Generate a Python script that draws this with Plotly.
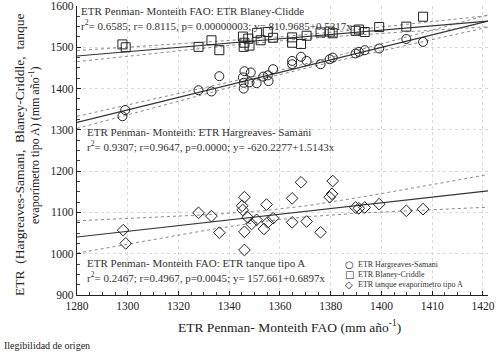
import numpy as np
import plotly.graph_objects as go

# ---------------- data ----------------
hs_x = [1297.9, 1299.0, 1327.9, 1333.0, 1336.1, 1345.4, 1346.0, 1345.7, 1345.7, 1348.5, 1348.0,
        1350.8, 1353.4, 1355.2, 1355.5, 1357.3, 1364.8, 1364.8, 1368.3, 1370.5, 1376.0, 1379.6,
        1380.8, 1389.8, 1391.1, 1393.4, 1399.1, 1409.8, 1416.4]
hs_y = [1333, 1348, 1396, 1393, 1430, 1427, 1442, 1414, 1400, 1439, 1415,
        1413, 1429, 1432, 1418, 1447, 1467, 1459, 1477, 1467, 1459, 1471,
        1475, 1485, 1489, 1493, 1497, 1520, 1513]

bc_x = [1297.9, 1299.2, 1327.9, 1333.0, 1336.1, 1345.4, 1346.0, 1345.7, 1348.0, 1347.5, 1351.0,
        1352.4, 1355.2, 1357.3, 1364.8, 1364.8, 1368.3, 1370.5, 1376.0, 1379.6, 1380.8,
        1389.8, 1391.1, 1393.4, 1399.1, 1409.8, 1416.4]
bc_y = [1507, 1500, 1501, 1517, 1493, 1526, 1511, 1501, 1504, 1521, 1535,
        1517, 1537, 1523, 1524, 1511, 1508, 1528, 1536, 1538, 1534,
        1540, 1543, 1537, 1549, 1550, 1574]

ta_x = [1298.2, 1299.2, 1327.9, 1333.0, 1336.1, 1346.0, 1345.1, 1345.3, 1346.0, 1346.0, 1347.3,
        1348.8, 1350.8, 1354.7, 1353.7, 1355.2, 1357.3, 1364.8, 1364.8, 1368.3, 1370.5, 1376.0,
        1379.6, 1380.5, 1380.8, 1389.8, 1391.1, 1393.4, 1399.1, 1409.8, 1416.4]
ta_y = [1057, 1025, 1099, 1091, 1051, 1137, 1116, 1106, 1053, 1009, 1088,
        1072, 1082, 1119, 1060, 1076, 1086, 1134, 1076, 1173, 1078, 1052,
        1137, 1145, 1176, 1112, 1110, 1112, 1120, 1104, 1108]

# regression coefficients printed on the chart (intercept, slope)
hs_fit = [-620.2277, 1.5143]
bc_fit = [810.9685, 0.5217]
ta_fit = [157.661, 0.6897]

series_names = ["ETR Hargreaves-Samani", "ETR Blaney-Criddle", "ETR tanque evaporímetro tipo A"]
legend_glyphs = ["○", "□", "◇"]

x_tickvals = [1280, 1300, 1320, 1340, 1360, 1380, 1400, 1420, 1440]
x_ticktext = ["1280", "1300", "1320", "1340", "1360", "1380", "1400", "1410", "1420"]
y_tickvals = [900, 1000, 1100, 1200, 1300, 1400, 1500, 1600]

X_MIN, X_MAX = 1280, 1442
FONT = "Liberation Serif, Times New Roman, serif"
L, R, T, B, W, H = 77, 12, 6, 58, 500, 353
PW, PH = W - L - R, H - T - B


def px_x(p):
    return (p - L) / PW


def px_y(p):
    return (H - B - p) / PH


fig = go.Figure()


def add_fit(xs, ys, coef):
    xs = np.asarray(xs, float)
    ys = np.asarray(ys, float)
    a, b = coef
    n = len(xs)
    resid = ys - (a + b * xs)
    s = np.sqrt(np.sum(resid ** 2) / (n - 2))
    xbar = xs.mean()
    sxx = np.sum((xs - xbar) ** 2)
    t = 2.05
    grid = np.linspace(X_MIN, X_MAX, 100)
    yhat = a + b * grid
    half = t * s * np.sqrt(1.0 / n + (grid - xbar) ** 2 / sxx)
    for yy in (yhat + half, yhat - half):
        fig.add_trace(go.Scatter(x=grid, y=yy, mode="lines", showlegend=False, hoverinfo="skip",
                                 line=dict(color="#8a8a8a", width=1, dash="dot")))
    fig.add_trace(go.Scatter(x=grid, y=yhat, mode="lines", showlegend=False, hoverinfo="skip",
                             line=dict(color="#333333", width=1.1)))


add_fit(hs_x, hs_y, hs_fit)
add_fit(bc_x, bc_y, bc_fit)
add_fit(ta_x, ta_y, ta_fit)

for xs, ys, sym, nm in [(hs_x, hs_y, "circle-open", series_names[0]),
                        (bc_x, bc_y, "square-open", series_names[1]),
                        (ta_x, ta_y, "diamond-open", series_names[2])]:
    fig.add_trace(go.Scatter(x=xs, y=ys, mode="markers", name=nm, showlegend=False,
                             marker=dict(symbol=sym, size=9, color="#222222", line=dict(width=1))))

ann_font = dict(family=FONT, size=11, color="#333333")
texts = [
    (79, 3, "ETR Penman- Monteith FAO: ETR Blaney-Clidde"),
    (79, 16, "r<sup>2</sup>= 0.6585; r= 0.8115, p= 0.00000003; y= 810.9685+0.5217x"),
    (85, 124, "ETR Penman- Monteith: ETR Hargreaves- Samani"),
    (85, 137, "r<sup>2</sup>= 0.9307; r=0.9647, p=0.0000; y= -620.2277+1.5143x"),
    (85, 255, "ETR Penman- Monteith FAO: ETR tanque tipo A"),
    (85, 268, "r<sup>2</sup>= 0.2467; r=0.4967, p=0.0045; y= 157.661+0.6897x"),
]
for xp, yp, t in texts:
    fig.add_annotation(x=px_x(xp), y=px_y(yp), xref="paper", yref="paper", text=t, showarrow=False,
                       xanchor="left", yanchor="top", font=ann_font)

# manual compact legend
for i, (g, nm) in enumerate(zip(legend_glyphs, series_names)):
    yy = px_y(264 + i * 10)
    fig.add_annotation(x=px_x(349), y=yy, xref="paper", yref="paper", text=g, showarrow=False,
                       xanchor="center", yanchor="middle",
                       font=dict(family="DejaVu Sans", size=10, color="#222222"))
    fig.add_annotation(x=px_x(356), y=yy, xref="paper", yref="paper", text=nm, showarrow=False,
                       xanchor="left", yanchor="middle",
                       font=dict(family=FONT, size=8, color="#333333"))

# axis titles
fig.add_annotation(x=px_x(289), y=px_y(326), xref="paper", yref="paper",
                   text="ETR Penman- Monteith FAO (mm año<sup>-1</sup>)", showarrow=False,
                   xanchor="center", yanchor="middle", font=dict(family=FONT, size=13.5, color="#222222"))
fig.add_annotation(x=px_x(19), y=px_y(155), xref="paper", yref="paper",
                   text="ETR  (Hargreaves-Samani,  Blaney-Criddle,  tanque",
                   showarrow=False, textangle=-90, xanchor="center", yanchor="middle",
                   font=dict(family=FONT, size=13.5, color="#222222"))
fig.add_annotation(x=px_x(34), y=px_y(145), xref="paper", yref="paper",
                   text="evaporímetro tipo A) (mm año<sup>-1</sup>)",
                   showarrow=False, textangle=-90, xanchor="center", yanchor="middle",
                   font=dict(family=FONT, size=12, color="#222222"))

fig.add_annotation(x=px_x(2), y=px_y(345), xref="paper", yref="paper", text="Ilegibilidad de origen",
                   showarrow=False, xanchor="left", yanchor="middle",
                   font=dict(family=FONT, size=10, color="#222222"))

axis_common = dict(showgrid=True, gridcolor="#d9d9d9", griddash="dot", gridwidth=1,
                   showline=True, linecolor="#222222", linewidth=1.2, zeroline=False,
                   ticks="inside", ticklen=4, tickcolor="#222222", automargin=False,
                   tickfont=dict(family=FONT, size=11.5, color="#222222"))

fig.update_layout(
    width=W, height=H,
    margin=dict(l=L, r=R, t=T, b=B),
    paper_bgcolor="white", plot_bgcolor="white",
    font=dict(family=FONT, size=11, color="#222222"),
    showlegend=False,
    xaxis=dict(range=[X_MIN, X_MAX], tickvals=x_tickvals, ticktext=x_ticktext,
               minor=dict(ticks="inside", ticklen=3, dtick=5, tickcolor="#444444", showgrid=False),
               **axis_common),
    yaxis=dict(range=[900, 1600], tickvals=y_tickvals,
               minor=dict(ticks="inside", ticklen=3, dtick=25, tickcolor="#444444", showgrid=False),
               **axis_common),
)

fig.write_html("out.html", config={"displayModeBar": False},
               post_script="document.body.style.margin='0';document.body.style.overflow='hidden';")
